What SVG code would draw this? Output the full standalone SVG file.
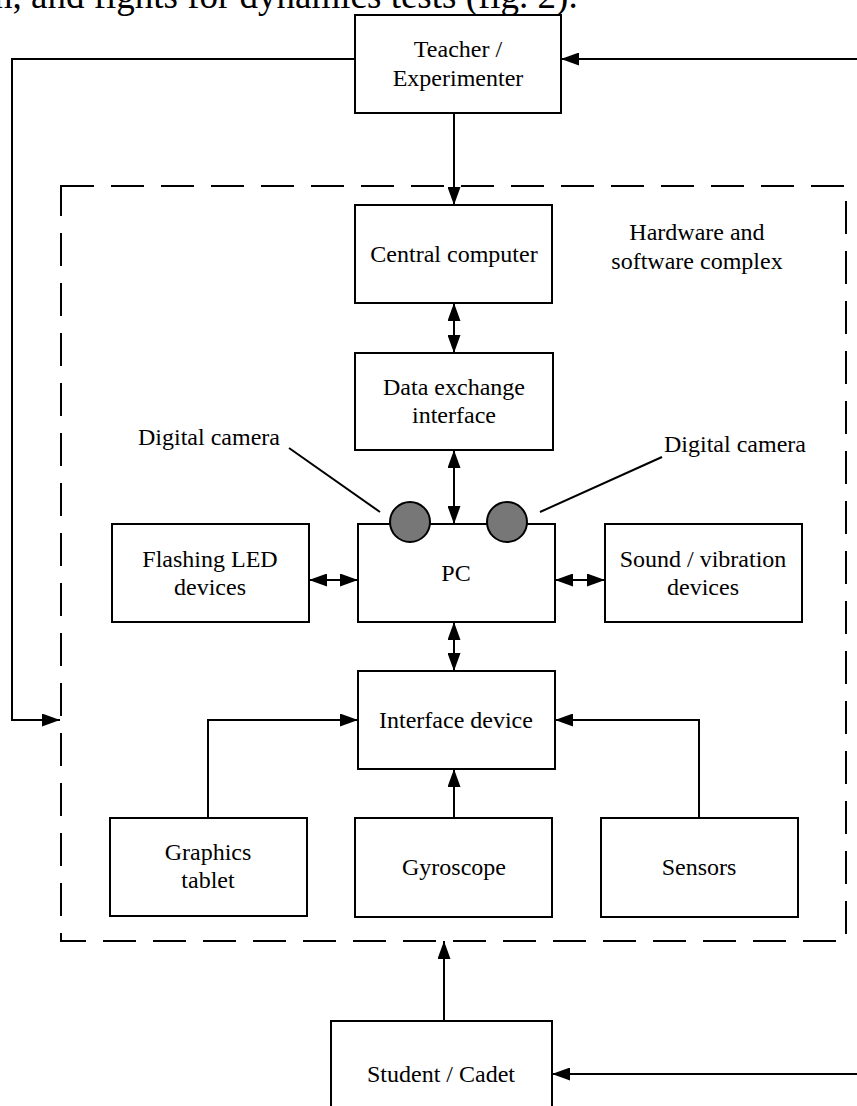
<svg xmlns="http://www.w3.org/2000/svg" width="857" height="1106" viewBox="0 0 857 1106">
<style>
.box{fill:#fff;stroke:#000;stroke-width:2}
.t{font-family:"Liberation Serif","Times New Roman",serif;font-size:24px;fill:#000;text-anchor:middle}
.ts{font-family:"Liberation Serif","Times New Roman",serif;font-size:24px;fill:#000}
.ln{fill:none;stroke:#000;stroke-width:2}
.a{marker-end:url(#ah)}
.d{marker-start:url(#ah);marker-end:url(#ah)}
.cam{fill:#777;stroke:#000;stroke-width:2}
</style>
<defs>
<marker id="ah" markerUnits="userSpaceOnUse" markerWidth="18" markerHeight="13" refX="18" refY="6.5" orient="auto-start-reverse">
<path d="M0,0 L18,6.5 L0,13 z" fill="#000"/>
</marker>
</defs>
<rect width="857" height="1106" fill="#fff"/>
<text x="-6" y="8" font-family="Liberation Serif, Times New Roman, serif" font-size="37" fill="#000">n, and fights for dynamics tests (fig. 2).</text>

<g id="complex-boundary">
<rect x="61" y="186" width="785" height="755" fill="none" stroke="#000" stroke-width="2" stroke-dasharray="33 17"/>
<text class="t" x="697" y="240">Hardware and</text>
<text class="t" x="697" y="269">software complex</text>
</g>

<g id="connectors">
<polyline class="ln a" points="355,59 12,59 12,720 60,720"/>
<line class="ln a" x1="857" y1="59" x2="561" y2="59"/>
<line class="ln a" x1="454" y1="113" x2="454" y2="205"/>
<line class="ln d" x1="454" y1="303" x2="454" y2="353"/>
<line class="ln d" x1="454" y1="450" x2="454" y2="524"/>
<line class="ln d" x1="309" y1="580" x2="358" y2="580"/>
<line class="ln d" x1="555" y1="580" x2="605" y2="580"/>
<line class="ln d" x1="454" y1="622" x2="454" y2="671"/>
<polyline class="ln a" points="208,818 208,720 358,720"/>
<polyline class="ln a" points="699,818 699,720 555,720"/>
<line class="ln a" x1="454" y1="818" x2="454" y2="769"/>
<line class="ln a" x1="444" y1="1021" x2="444" y2="941"/>
<line class="ln a" x1="857" y1="1074" x2="552" y2="1074"/>
<line class="ln" x1="289" y1="448" x2="380" y2="512"/>
<line class="ln" x1="540" y1="512" x2="662" y2="457"/>
</g>

<g id="teacher">
<rect class="box" x="355" y="15" width="206" height="98"/>
<text class="t" x="458" y="57">Teacher /</text>
<text class="t" x="458" y="86">Experimenter</text>
</g>

<g id="central-computer">
<rect class="box" x="355" y="205" width="197" height="98"/>
<text class="t" x="454" y="262">Central computer</text>
</g>

<g id="data-exchange">
<rect class="box" x="355" y="353" width="198" height="97"/>
<text class="t" x="454" y="395">Data exchange</text>
<text class="t" x="454" y="423">interface</text>
</g>

<g id="pc">
<rect class="box" x="358" y="524" width="197" height="98"/>
<text class="t" x="456" y="581">PC</text>
</g>

<g id="camera-left">
<circle class="cam" cx="410" cy="522" r="20"/>
<text class="ts" x="138" y="445">Digital camera</text>
</g>

<g id="camera-right">
<circle class="cam" cx="507" cy="522" r="20"/>
<text class="ts" x="664" y="452">Digital camera</text>
</g>

<g id="flashing-led">
<rect class="box" x="112" y="524" width="197" height="98"/>
<text class="t" x="210" y="567">Flashing LED</text>
<text class="t" x="210" y="595">devices</text>
</g>

<g id="sound-vibration">
<rect class="box" x="605" y="524" width="197" height="98"/>
<text class="t" x="703" y="567">Sound / vibration</text>
<text class="t" x="703" y="595">devices</text>
</g>

<g id="interface-device">
<rect class="box" x="358" y="671" width="197" height="98"/>
<text class="t" x="456" y="728">Interface device</text>
</g>

<g id="graphics-tablet">
<rect class="box" x="110" y="818" width="197" height="98"/>
<text class="t" x="208" y="860">Graphics</text>
<text class="t" x="208" y="888">tablet</text>
</g>

<g id="gyroscope">
<rect class="box" x="355" y="818" width="197" height="99"/>
<text class="t" x="454" y="875">Gyroscope</text>
</g>

<g id="sensors">
<rect class="box" x="601" y="818" width="197" height="99"/>
<text class="t" x="699" y="875">Sensors</text>
</g>

<g id="student">
<rect class="box" x="331" y="1021" width="221" height="100"/>
<text class="t" x="441" y="1082">Student / Cadet</text>
</g>
</svg>
